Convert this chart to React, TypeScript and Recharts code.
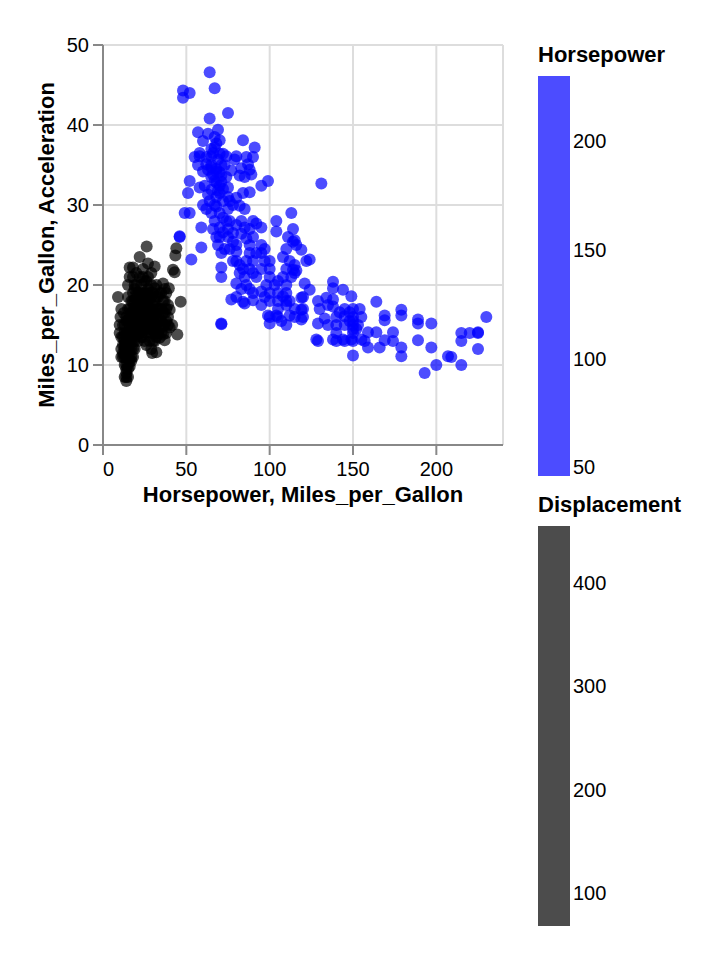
import { ScatterChart, Scatter, XAxis, YAxis, CartesianGrid, ReferenceLine } from 'recharts'

document.body.style.margin = '0'

// [Horsepower, Miles_per_Gallon] – blue layer
const horsepowerVsMpg: [number, number][] = [
  [64, 46.6], [67, 44.6], [48, 44.3], [52, 44], [48, 43.4], [75, 41.5], [64, 40.8], [69, 39.4], [57, 39.1], [63, 38.9],
  [84, 38.1], [91, 37.2], [60, 38], [68, 37.7], [58, 36.1], [74, 36.1], [79, 35.7], [86, 36], [90, 36], [87, 35.1],
  [82, 33.7], [89, 33.8], [99, 33], [95, 32.4], [52, 33], [51, 31.5], [131, 32.7],
  [65, 37], [67, 37.2], [70, 36.4], [65, 36.1], [68, 34.5], [70, 34.1], [65, 34.7], [60, 34.2], [62, 35.1],
  [63, 34.4], [65, 33.5], [67, 33], [68, 32.8], [70, 32.4], [72, 32], [75, 32.2], [70, 31.5], [65, 31.9], [68, 31],
  [67, 30], [75, 31], [76, 30.5], [78, 30], [74, 33.5], [80, 30.9], [84, 31.5], [88, 31.6], [70, 38.1], [69, 35.7],
  [68, 34.2], [62, 36], [65, 35], [71, 33.7], [73, 35], [77, 34.3], [72, 36.4], [66, 33.8], [61, 32.4], [63, 31.3],
  [58, 32.2], [55, 36], [57, 35], [58, 36.5], [66, 36.5], [67, 38.5], [71, 32.9], [69, 31.8],
  [80, 36.1], [83, 34.6], [85, 33.5], [88, 34.4],
  [60, 30], [62, 29.5], [65, 29], [68, 29.8], [70, 29], [72, 28.4], [75, 29.5], [74, 28], [67, 28], [70, 27.2],
  [75, 27], [78, 26.5], [70, 26], [72, 26.6], [75, 26], [78, 25.4], [80, 25], [76, 24.5], [71, 24], [80, 24.2],
  [80, 27.5], [83, 28], [85, 27.2], [83, 26.4], [86, 25.8], [88, 27], [88, 25], [90, 28], [90, 26], [92, 24],
  [78, 23], [80, 23], [82, 22.5], [84, 22], [86, 23], [88, 22], [88, 24], [90, 23], [90, 21.5], [95, 22],
  [95, 24], [95, 25], [97, 23], [97, 24.5], [100, 22], [100, 23], [100, 21], [98, 20], [92, 21], [85, 21],
  [82, 21.5], [80, 20.2], [86, 20], [88, 19.5], [90, 19], [95, 19.2], [97, 18.5], [100, 18], [100, 19], [103, 20],
  [105, 20.5], [105, 19], [105, 18], [108, 18.6], [110, 18], [110, 19], [110, 20], [110, 17.5], [112, 18], [115, 17],
  [112, 16.2], [105, 16], [107, 15.5], [100, 16], [100, 15.2], [110, 15], [115, 16], [105, 17], [95, 17.5], [90, 18.1],
  [85, 17.7], [80, 18.5], [83, 19.5], [77, 18.2], [84, 17.9], [71, 15.2], [71, 15.1], [71, 22.2], [71, 21], [53, 23.2],
  [59, 24.7], [59, 27.2], [46, 26], [46, 26.1], [49, 29], [52, 29], [104, 28], [104, 26.7], [113, 29], [111, 26],
  [114, 25.4], [116, 25], [110, 24.5], [108, 23.5], [112, 23], [115, 22.5], [110, 22], [115, 21.5], [113, 21], [108, 21],
  [122, 23], [120, 18.5], [120, 17], [120, 16], [82, 29.9], [85, 29.5], [92, 27.7], [95, 27.2], [99, 16.2], [104, 16.2],
  [114, 27], [115, 25.6], [119, 24.4], [124, 23.2], [114, 21.9], [116, 21.8], [138, 20.4], [138, 19.6], [144, 19.4], [149, 18.6],
  [121, 20.2], [124, 19.4], [119, 18.4], [119, 16.9], [119, 15.7], [129, 18], [134, 18.4], [138, 18.2], [129, 15.2], [128, 13.2],
  [129, 13], [138, 13.2], [144, 13.2], [149, 13.2], [150, 13], [150, 14], [150, 15], [145, 15], [140, 14], [140, 15],
  [140, 16], [145, 16.1], [150, 16], [150, 17], [145, 17], [148, 15.5], [153, 15], [155, 16], [150, 11.2],
  [130, 17], [135, 17.5], [138, 17.3], [142, 16.6], [148, 16.6], [150, 15.5], [150, 14.5], [152, 14.5], [135, 15], [133, 15.8],
  [155, 13.2], [157, 13], [145, 13], [140, 13],
  [164, 17.9], [154, 17], [159, 14.1], [164, 14.1], [159, 12.2], [166, 12.2], [169, 16.2], [169, 15.6], [174, 14.1], [169, 13.1],
  [174, 13], [179, 16.9], [179, 16.2], [179, 12.2], [179, 11.1], [189, 15.7], [189, 15.2], [197, 15.2], [189, 13.1], [197, 12.2],
  [193, 9], [200, 10], [207, 11.1], [209, 11], [215, 10], [215, 14], [220, 14], [225, 14], [225, 14.1], [215, 13],
  [225, 12], [230, 16],
  [66, 27], [69, 25], [73, 24.5], [68, 26], [72, 30.5], [76, 28], [64, 30.5], [71, 35],
]

// [Miles_per_Gallon, Acceleration] – black layer
const mpgVsAcceleration: [number, number][] = [
  [9, 18.5], [10, 14], [10, 15], [11, 13.5], [11, 11], [11, 12], [12, 11], [12, 12.5], [12, 13.5], [12, 11.5],
  [13, 12], [13, 13], [13, 14], [13, 12.5], [13, 11], [13, 11.5], [13, 15], [13, 8.5], [13, 10], [14, 8],
  [14, 8.5], [14, 9], [14, 9.5], [14, 10], [14, 11], [14, 12], [14, 13], [14, 14], [14, 12.5], [14, 15.5],
  [14, 16], [15, 8.5], [15, 9.5], [15, 10], [15, 11], [15, 11.5], [15, 12], [15, 13], [15, 14], [15, 15.5],
  [15, 17], [15, 18.5], [15, 20], [16, 9.8], [16, 10.5], [16, 11], [16, 12], [16, 13], [16, 14], [16, 15],
  [16, 16], [16, 17], [16, 21], [16, 22.2], [17, 10.5], [17, 11], [17, 12], [17, 13], [17, 14.5], [17, 15.5],
  [17, 16.5], [17, 18], [18, 11], [18, 12], [18, 13], [18, 14], [18, 15], [18, 15.5], [18, 16], [18, 16.5],
  [18, 17], [18, 18], [18, 19], [18, 21], [18, 22.2], [19, 12], [19, 13], [19, 14], [19, 15], [19, 16],
  [19, 17], [19, 18], [19, 19.5], [19, 20], [20, 14], [20, 15], [20, 15.5], [20, 16], [20, 17], [20, 18],
  [20, 19], [20, 20], [21, 13], [21, 14.5], [21, 15], [21, 16], [21, 17], [21, 18], [21, 19], [22, 14],
  [22, 15], [22, 15.5], [22, 16.5], [22, 18], [22, 19], [22, 21], [22, 23.5], [23, 13.5], [23, 15], [23, 16],
  [23, 17], [23, 18.5], [23, 20], [24, 13.5], [24, 14.5], [24, 15], [24, 16], [24, 17], [24, 18], [24, 19],
  [24, 21], [25, 13], [25, 14.5], [25, 15.5], [25, 16.5], [25, 17.5], [25, 19], [25, 20.5], [26, 12.5], [26, 14],
  [26, 15], [26, 16], [26, 17], [26, 18], [26, 19], [26, 20.5], [26.2, 24.8], [27, 14.5], [27, 15.5], [27, 16],
  [27, 17], [27, 18], [27, 19.5], [27, 21], [27, 22.7], [28, 13], [28, 14.5], [28, 15.5], [28, 16.5], [28, 18],
  [28, 19], [29, 12], [29, 14], [29, 15], [29, 16], [29, 17], [29, 18.5], [29, 20], [29.5, 11.5], [30, 13],
  [30, 14.5], [30, 15.5], [30, 16.5], [30, 17.5], [30, 19], [31, 13], [31, 14], [31, 15], [31, 16.4], [31, 18],
  [31, 19.6], [31, 22.3], [32, 11.6], [32, 13.5], [32, 15], [32, 16], [32, 17], [32, 18.5], [32, 20], [33, 14],
  [33, 15.5], [33, 17], [33, 18.5], [34, 13.4], [34, 14.5], [34, 15.8], [34, 17], [34, 19], [35, 14], [35, 15.5],
  [35, 17], [35, 19], [36, 13.8], [36, 15], [36, 16.5], [36, 18], [36, 20.2], [37, 13.1], [37, 15], [37, 16.5],
  [37, 18], [37, 19.5], [38, 14], [38, 15.5], [38, 17], [38, 19], [39, 17.5], [39, 15], [39, 16], [39.5, 19.6],
  [40, 16.9], [40, 14.7], [41.5, 15], [42, 21.9], [43, 21.6], [43.4, 23.7], [44, 24.6], [44.6, 13.8], [46.6, 17.9],
  [10.5, 16], [11, 17], [12, 15], [12.5, 16.5], [20, 21.5], [24, 22], [29, 21.5],
]

const xTicks = [0, 50, 100, 150, 200]
const yTicks = [0, 10, 20, 30, 40, 50]
const xDomain = [0, 240]
const yDomain = [0, 50]

const hpLegendTicks = [50, 100, 150, 200]
const hpLegendDomain = [46, 230]
const dispLegendTicks = [100, 200, 300, 400]
const dispLegendDomain = [68, 455]

const FONT = '"Liberation Sans", Arial, Helvetica, sans-serif'

const blueData = horsepowerVsMpg.map(([x, y]) => ({ x, y }))
const blackData = mpgVsAcceleration.map(([x, y]) => ({ x, y }))

const dot = (color: string) => (props: any) => (
  <circle cx={props.cx} cy={props.cy} r={6} fill={color} fillOpacity={0.7} />
)

// first x label sits flush with the left edge of the plot
const XTick = (props: any) => {
  const { x, y, payload } = props
  return (
    <text
      x={x}
      y={y}
      dy="0.71em"
      textAnchor={payload.value === xDomain[0] ? 'start' : 'middle'}
      fontSize={20}
      fontFamily={FONT}
      fill="#000"
    >
      {payload.value}
    </text>
  )
}

function GradientLegend({ title, titleY, color, domain, ticks }: {
  title: string
  titleY: number
  color: string
  domain: number[]
  ticks: number[]
}) {
  const barTop = titleY + 14
  const len = 400
  const pos = (v: number) => barTop + ((domain[1] - v) / (domain[1] - domain[0])) * len
  return (
    <g>
      <text x={538} y={titleY} fontSize={22} fontWeight="bold" fill="#000">{title}</text>
      <rect x={538} y={barTop} width={32} height={len} fill={color} fillOpacity={0.7} />
      {ticks.map((t) => (
        <text key={t} x={573} y={pos(t)} fontSize={20} dominantBaseline="central" fill="#000">{t}</text>
      ))}
    </g>
  )
}

export default function App() {
  return (
    <div style={{ position: 'relative', width: 712, height: 960, fontFamily: FONT, background: '#fff' }}>
      <ScatterChart width={520} height={515} margin={{ top: 45, right: 17, bottom: 0, left: 0 }}>
        <CartesianGrid stroke="#ddd" strokeWidth={2} />
        <XAxis
          type="number"
          dataKey="x"
          domain={xDomain}
          ticks={xTicks}
          height={70}
          tickSize={10}
          tickMargin={7}
          axisLine={{ stroke: '#888', strokeWidth: 2 }}
          tickLine={{ stroke: '#888', strokeWidth: 2 }}
          tick={<XTick />}
          allowDataOverflow
        />
        <YAxis
          type="number"
          dataKey="y"
          domain={yDomain}
          ticks={yTicks}
          width={103}
          tickSize={10}
          tickMargin={4}
          axisLine={{ stroke: '#888', strokeWidth: 2 }}
          tickLine={{ stroke: '#888', strokeWidth: 2 }}
          tick={{ fill: '#000', fontSize: 20, fontFamily: FONT }}
          allowDataOverflow
        />
        <ReferenceLine x={240} stroke="#ddd" strokeWidth={2} />
        <Scatter data={blueData} shape={dot('#0000ff')} isAnimationActive={false} />
        <Scatter data={blackData} shape={dot('#000000')} isAnimationActive={false} />
      </ScatterChart>
      <svg
        width={712}
        height={960}
        style={{ position: 'absolute', left: 0, top: 0, pointerEvents: 'none', fontFamily: FONT }}
      >
        <text x={303} y={502} textAnchor="middle" fontSize={22} fontWeight="bold" fill="#000">
          Horsepower, Miles_per_Gallon
        </text>
        <text
          transform="translate(54,245) rotate(-90)"
          textAnchor="middle"
          fontSize={22}
          fontWeight="bold"
          fill="#000"
        >
          Miles_per_Gallon, Acceleration
        </text>
        <GradientLegend title="Horsepower" titleY={62} color="#0000ff" domain={hpLegendDomain} ticks={hpLegendTicks} />
        <GradientLegend title="Displacement" titleY={512} color="#000000" domain={dispLegendDomain} ticks={dispLegendTicks} />
      </svg>
    </div>
  )
}
